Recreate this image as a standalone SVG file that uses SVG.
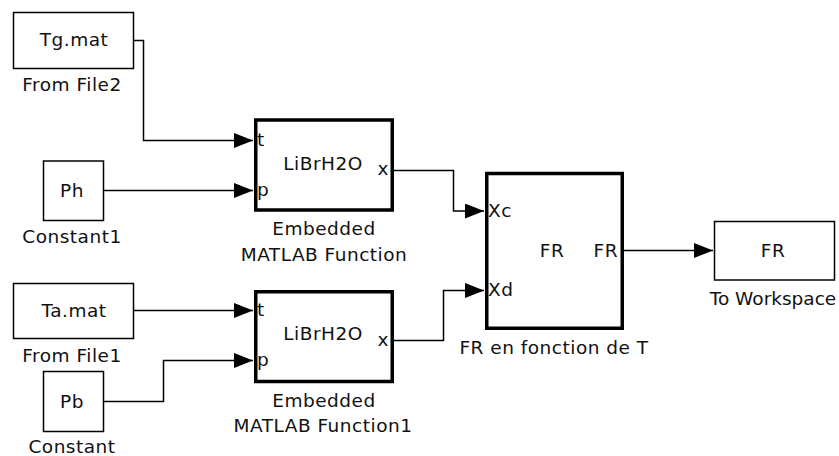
<svg xmlns="http://www.w3.org/2000/svg" width="839" height="456" viewBox="0 0 839 456">
<defs>
<style>
.blk{fill:#fff;stroke:#000;stroke-width:1.5}
.thk{fill:#fff;stroke:#000;stroke-width:3.5}
.t{font-family:"DejaVu Sans",Verdana,sans-serif;font-size:18.5px;fill:#111;letter-spacing:0.5px}
.c{text-anchor:middle}
.e{text-anchor:end}
.w{fill:none;stroke:#000;stroke-width:1.5}
</style>
<marker id="ar" viewBox="0 0 19 15" refX="19" refY="7.5" markerWidth="19" markerHeight="15" markerUnits="userSpaceOnUse" orient="auto">
<path d="M0,0 L19,7.5 L0,15 z" fill="#000"/>
</marker>
</defs>
<rect width="839" height="456" fill="#fff"/>
<g id="connectors">
<polyline class="w" points="134,40.5 143.5,40.5 143.5,140.5 253,140.5" marker-end="url(#ar)"/>
<polyline class="w" points="104,190.5 253,190.5" marker-end="url(#ar)"/>
<polyline class="w" points="134,310.5 253,310.5" marker-end="url(#ar)"/>
<polyline class="w" points="104,401.5 163.5,401.5 163.5,360.5 253,360.5" marker-end="url(#ar)"/>
<polyline class="w" points="394,170.5 453.5,170.5 453.5,211 484,211" marker-end="url(#ar)"/>
<polyline class="w" points="394,340.5 443.5,340.5 443.5,290.5 484,290.5" marker-end="url(#ar)"/>
<polyline class="w" points="624,250.5 713,250.5" marker-end="url(#ar)"/>
</g>
<g id="fromfile2">
<rect class="blk" x="13.5" y="12.5" width="120" height="56"/>
<text class="t c" x="74" y="46">Tg.mat</text>
<text class="t c" x="72" y="91">From File2</text>
</g>
<g id="constant1">
<rect class="blk" x="43.5" y="161" width="60" height="59.5"/>
<text class="t c" x="72" y="197">Ph</text>
<text class="t c" x="72" y="243">Constant1</text>
</g>
<g id="emb1">
<rect class="thk" x="255.75" y="120" width="136.5" height="90"/>
<text class="t" x="257" y="146">t</text>
<text class="t" x="257" y="196">p</text>
<text class="t c" x="323" y="170">LiBrH2O</text>
<text class="t e" x="389" y="175">x</text>
<text class="t c" x="324" y="235">Embedded</text>
<text class="t c" x="324" y="261">MATLAB Function</text>
</g>
<g id="fromfile1">
<rect class="blk" x="13.5" y="283.5" width="120" height="55"/>
<text class="t c" x="74" y="317">Ta.mat</text>
<text class="t c" x="72" y="362">From File1</text>
</g>
<g id="constant">
<rect class="blk" x="43.5" y="371.5" width="60" height="60"/>
<text class="t c" x="72" y="408">Pb</text>
<text class="t c" x="72" y="453">Constant</text>
</g>
<g id="emb2">
<rect class="thk" x="255.75" y="291.75" width="136.5" height="89.75"/>
<text class="t" x="257" y="316">t</text>
<text class="t" x="257" y="366">p</text>
<text class="t c" x="323" y="340">LiBrH2O</text>
<text class="t e" x="389" y="346">x</text>
<text class="t c" x="324" y="407">Embedded</text>
<text class="t c" x="323" y="432">MATLAB Function1</text>
</g>
<g id="fr">
<rect class="thk" x="486.75" y="173.5" width="135.5" height="154.75"/>
<text class="t" x="488" y="217">Xc</text>
<text class="t" x="488" y="296">Xd</text>
<text class="t c" x="552" y="257">FR</text>
<text class="t e" x="618" y="257">FR</text>
<text class="t c" x="554" y="354">FR en fonction de T</text>
</g>
<g id="toworkspace">
<rect class="blk" x="714.5" y="221.5" width="120" height="58.5"/>
<text class="t c" x="773" y="257">FR</text>
<text class="t c" x="773" y="305" style="letter-spacing:0">To Workspace</text>
</g>
</svg>
